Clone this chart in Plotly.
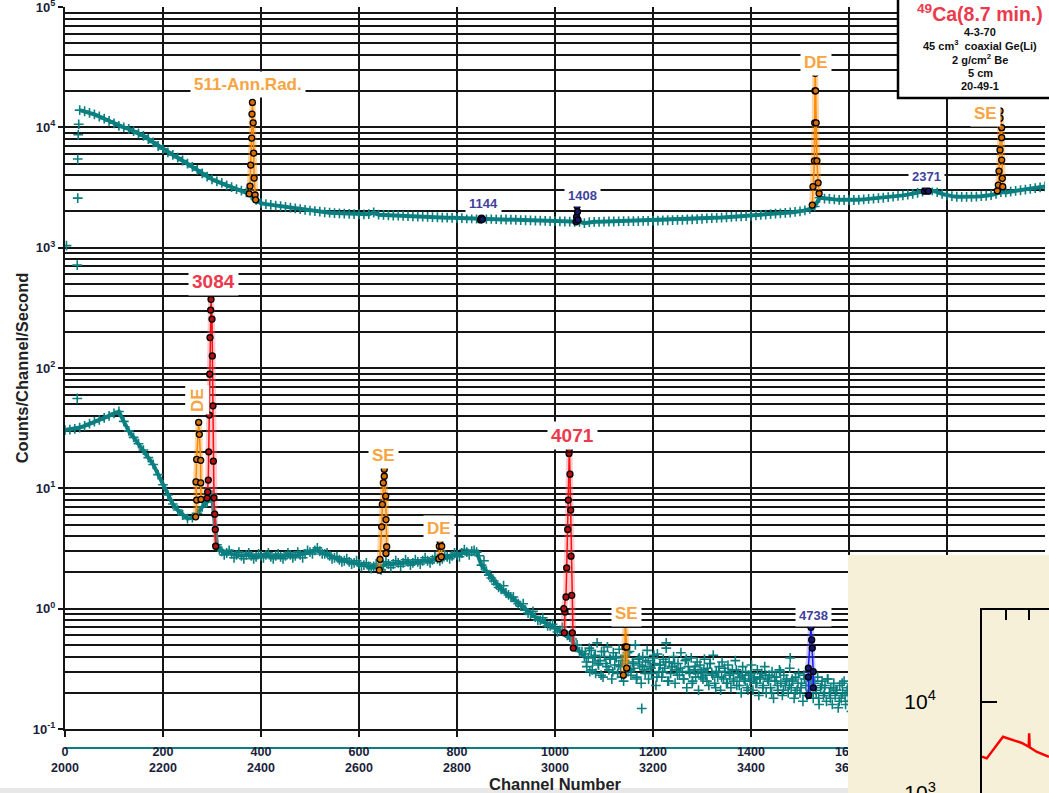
import plotly.graph_objects as go

W, H = 1049, 793

TEAL = "#0b7f80"
ORANGE = "#ff8a00"
ORANGE_TXT = "#f7a441"
RED = "#ff1010"
RED_TXT = "#ec3a4c"
NAVY = "#16166a"
NAVY_TXT = "#3f3f9c"
BLUE = "#1a1aff"
GRID = "#151515"
TICK_TXT = "#1b1e3a"
FONT = "Arial, 'Liberation Sans', sans-serif"

# ---------------- spectrum data (counts / channel / second) ----------------
# upper spectrum, one reading every 10 channels from channel 30 to 2000
up_ch = list(range(30, 2001, 10))
up_val = [
    13900, 13600, 13200, 12800, 12300, 11800, 11300, 10800, 10300, 10000,
    9700, 9300, 8900, 8500, 8000, 7500, 7000, 6600, 6200, 5900,
    5600, 5300, 5000, 4700, 4420, 4150, 3900, 3700, 3550, 3450,
    3300, 3180, 3070, 2980, 2880, 2760, 2500, 2340, 2300, 2270,
    2240, 2210, 2180, 2150, 2120, 2090, 2060, 2030, 2010, 1990,
    1970, 1955, 1940, 1930, 1920, 1910, 1900, 1895, 1890, 1900,
    1960, 1880, 1870, 1860, 1850, 1845, 1840, 1830, 1820, 1815,
    1810, 1800, 1795, 1790, 1780, 1775, 1770, 1765, 1760, 1755,
    1750, 1745, 1740, 1740, 1735, 1730, 1720, 1715, 1710, 1700,
    1695, 1690, 1685, 1680, 1675, 1670, 1665, 1660, 1655, 1650,
    1645, 1640, 1640, 1600, 1630, 1640, 1640, 1645, 1650, 1650,
    1655, 1660, 1660, 1665, 1665, 1670, 1670, 1675, 1680, 1685,
    1690, 1695, 1700, 1705, 1715, 1720, 1730, 1740, 1750, 1760,
    1770, 1780, 1790, 1800, 1810, 1820, 1830, 1840, 1855, 1870,
    1885, 1900, 1915, 1930, 1945, 1960, 1980, 2000, 2040, 2100,
    2200, 2600, 2560, 2540, 2520, 2500, 2490, 2480, 2490, 2500,
    2520, 2540, 2560, 2580, 2600, 2630, 2660, 2690, 2720, 2760,
    2800, 2860, 2930, 3050, 3000, 2900, 2800, 2720, 2680, 2650,
    2640, 2640, 2650, 2660, 2680, 2700, 2740, 2800, 2900, 2880,
    2920, 2960, 3000, 3040, 3080, 3120, 3170, 3230,
]
# isolated readings at the very start of the upper spectrum
up_start_ch = [3, 25, 26, 26, 27, 28]
up_start_val = [1040, 716, 2580, 5450, 8670, 10600]

# lower spectrum, every 10 channels from 0 to 1060
lo_ch = list(range(0, 1061, 10))
lo_val = [
    30.5, 30.8, 31.2, 32, 33, 34.5, 35.8, 37, 38.5, 40,
    42, 43.5, 36, 30, 26.5, 23.5, 20.8, 18, 15.8, 13,
    10.7, 8.8, 7.4, 6.6, 6.0, 5.6, 5.7, 6.2, 7.0, 7.7,
    8.8, 3.4, 3.0, 2.9, 2.85, 2.8, 2.75, 2.8, 2.75, 2.7,
    2.75, 2.8, 2.7, 2.75, 2.7, 2.75, 2.8, 2.75, 2.8, 2.85,
    2.95, 3.05, 3.0, 2.85, 2.75, 2.65, 2.55, 2.5, 2.45, 2.4,
    2.35, 2.3, 2.25, 2.25, 2.2, 2.3, 2.35, 2.35, 2.4, 2.4,
    2.45, 2.4, 2.45, 2.5, 2.5, 2.55, 2.6, 2.6, 2.7, 2.75,
    2.8, 2.9, 2.95, 3.0, 2.95, 2.3, 2.05, 1.8, 1.6, 1.45,
    1.35, 1.25, 1.15, 1.05, 0.97, 0.9, 0.85, 0.8, 0.76, 0.72,
    0.68, 0.66, 0.64, 0.58, 0.5, 0.44, 0.40,
]
# second reading set in between, channels 315 to 1055
lo2_ch = list(range(315, 1056, 10))
lo2_val = [
    3.1, 2.8, 3.05, 2.65, 2.95, 2.6, 2.9, 2.6, 2.85, 2.65,
    2.9, 2.6, 2.85, 2.6, 2.9, 2.65, 2.95, 2.65, 3.05, 2.85,
    3.2, 2.85, 2.9, 2.6, 2.7, 2.45, 2.6, 2.35, 2.5, 2.25,
    2.4, 2.15, 2.35, 2.1, 2.45, 2.2, 2.5, 2.25, 2.55, 2.3,
    2.55, 2.35, 2.65, 2.4, 2.7, 2.5, 2.8, 2.6, 2.9, 2.7,
    3.1, 2.8, 3.05, 2.75, 2.5, 1.9, 1.7, 1.5, 1.55, 1.3,
    1.25, 1.1, 1.1, 0.92, 0.95, 0.8, 0.84, 0.72, 0.74, 0.64,
    0.7, 0.6, 0.56, 0.5, 0.44,
]
# low-count tail, every 3 channels from 1062 to 1641
tail_ch = list(range(1062, 1642, 3))
tail_val = [
    0.42, 0.33, 0.39, 0.30, 0.45, 0.36, 0.40, 0.29, 0.52, 0.34,
    0.37, 0.44, 0.27, 0.40, 0.35, 0.48, 0.31, 0.38, 0.26, 0.43,
    0.34, 0.39, 0.29, 0.46, 0.33, 0.37, 0.25, 0.41, 0.35, 0.30,
    0.44, 0.28, 0.36, 0.32, 0.50, 0.27, 0.38, 0.34, 0.24, 0.40,
    0.31, 0.36, 0.45, 0.26, 0.33, 0.29, 0.39, 0.35, 0.23, 0.42,
    0.30, 0.34, 0.27, 0.38, 0.32, 0.47, 0.25, 0.36, 0.29, 0.33,
    0.40, 0.24, 0.31, 0.35, 0.28, 0.43, 0.30, 0.26, 0.37, 0.22,
    0.33, 0.29, 0.39, 0.25, 0.31, 0.27, 0.36, 0.21, 0.34, 0.30,
    0.26, 0.38, 0.28, 0.32, 0.23, 0.35, 0.29, 0.41, 0.24, 0.30,
    0.27, 0.33, 0.21, 0.36, 0.26, 0.30, 0.24, 0.34, 0.28, 0.22,
    0.31, 0.25, 0.37, 0.23, 0.29, 0.27, 0.20, 0.33, 0.26, 0.30,
    0.22, 0.28, 0.25, 0.34, 0.21, 0.27, 0.24, 0.31, 0.19, 0.26,
    0.29, 0.23, 0.33, 0.20, 0.26, 0.28, 0.22, 0.30, 0.18, 0.25,
    0.27, 0.21, 0.31, 0.24, 0.19, 0.28, 0.23, 0.26, 0.20, 0.32,
    0.22, 0.25, 0.18, 0.27, 0.21, 0.29, 0.20, 0.24, 0.17, 0.26,
    0.23, 0.19, 0.28, 0.21, 0.25, 0.18, 0.24, 0.20, 0.27, 0.16,
    0.22, 0.25, 0.19, 0.23, 0.17, 0.26, 0.20, 0.22, 0.16, 0.24,
    0.19, 0.21, 0.15, 0.23, 0.18, 0.20, 0.25, 0.16, 0.21, 0.17,
    0.19, 0.14, 0.22, 0.18, 0.16, 0.21, 0.15, 0.19, 0.17, 0.20,
    0.15, 0.18, 0.16, 0.19,
]
# second tail set, every 6 channels from 1064 to 1640
tail2_ch = list(range(1064, 1641, 6))
tail2_val = [
    0.36, 0.47, 0.31, 0.41, 0.35, 0.28, 0.44, 0.33, 0.38, 0.30,
    0.40, 0.34, 0.27, 0.37, 0.43, 0.31, 0.35, 0.26, 0.39, 0.33,
    0.29, 0.37, 0.32, 0.41, 0.27, 0.34, 0.30, 0.36, 0.25, 0.33,
    0.35, 0.28, 0.32, 0.26, 0.38, 0.30, 0.24, 0.33, 0.29, 0.27,
    0.31, 0.25, 0.35, 0.28, 0.22, 0.30, 0.27, 0.32, 0.24, 0.29,
    0.26, 0.31, 0.23, 0.28, 0.25, 0.21, 0.29, 0.26, 0.24, 0.27,
    0.22, 0.28, 0.25, 0.20, 0.27, 0.23, 0.30, 0.21, 0.25, 0.23,
    0.26, 0.20, 0.24, 0.22, 0.28, 0.19, 0.23, 0.25, 0.21, 0.18,
    0.23, 0.20, 0.26, 0.18, 0.22, 0.21, 0.17, 0.24, 0.19, 0.22,
    0.17, 0.20, 0.16, 0.21, 0.18, 0.15, 0.19,
]
lo_extra_ch = [25, 1177, 1227, 1480]
lo_extra_val = [55.8, 0.148, 0.52, 0.39]

# ---------------- fitted peak regions ----------------
peaks = [
    # (channels, counts, kind)
    ([376, 377.6, 379, 381, 381.6, 382.5, 384, 385, 386, 388, 389],
     [2800, 3250, 4860, 8150, 12900, 16100, 10900, 6110, 3790, 2740, 2500], "escape"),
    ([1525, 1526.5, 1529.5, 1530, 1530.5, 1531, 1532, 1533, 1534.5, 1537, 1539],
     [2260, 3210, 5270, 10900, 20100, 28100, 20100, 10900, 5270, 3460, 2820], "escape"),
    ([1902.7, 1904.7, 1906.1, 1908.2, 1908.2, 1908.2, 1911.6, 1911.6, 1911.6, 1912.9, 1913.7],
     [2970, 3310, 4330, 6480, 11900, 13700, 9930, 8200, 5350, 3770, 3210], "escape"),
    ([848, 850, 852], [1700, 1770, 1720], "weak"),
    ([1043, 1044, 1045, 1046, 1047], [1640, 1800, 2220, 1990, 1700], "weak"),
    ([1754, 1758, 1762], [2950, 3110, 2950], "weak"),
    ([266.7, 268.7, 267.3, 268.7, 272.8, 274.1, 276.9, 276.9, 277.6],
     [5.8, 7.98, 11.3, 17.4, 35.3, 28.1, 17.1, 11.1, 8.09], "escape"),
    ([290, 291.2, 292.4, 293.3, 294.5, 295.3, 295.9, 297.3, 298.0,
      300.0, 300.6, 302.0, 302.7, 304.0, 305.5, 306.7, 307.6],
     [8.3, 9.35, 11.7, 20.1, 40.6, 88.9, 179, 303, 372,
      255, 126, 48.5, 16.8, 8.34, 6.1, 4.55, 3.3], "gamma"),
    ([641.4, 642.9, 646.3, 647.6, 649.6, 651.6, 651.6, 654.5, 655.1, 656.5, 655.1],
     [2.09, 2.57, 4.79, 7.35, 11.1, 14.4, 12.6, 8.61, 5.5, 3.27, 2.88], "escape"),
    ([763, 763.9, 765.3, 768.8, 768], [2.6, 3.30, 3.66, 3.30, 2.70], "escape"),
    ([1019, 1020.4, 1018, 1022.4, 1023.9, 1025.9, 1027.1, 1028.6, 1029.2,
      1030.6, 1032, 1032.7, 1034.1, 1035.3, 1037.3],
     [0.63, 0.94, 1.0, 1.25, 2.18, 4.55, 7.98, 19.5, 21.1,
      13.1, 6.59, 2.73, 1.29, 0.63, 0.47], "gamma"),
    ([1139.4, 1142.9, 1143.5, 1146.3, 1146.3], [0.28, 0.48, 0.74, 0.48, 0.32], "escape"),
    ([1517.7, 1517, 1517, 1522.4, 1523.9, 1525.1, 1527.1, 1527.1],
     [0.19, 0.27, 0.32, 0.70, 0.55, 0.47, 0.30, 0.22], "blue"),
]

# peak labels: text, channel, log10(counts), kind
peak_labels = [
    ("511-Ann.Rad.", 373, 4.36, "escape"),
    ("1144", 855, 3.371, "weak"),
    ("1408", 1057, 3.43, "weak"),
    ("DE", 1533, 4.537, "escape"),
    ("2371", 1759, 3.595, "weak"),
    ("SE", 1878, 4.116, "escape"),
    ("3084", 303, 2.717, "gamma"),
    ("SE", 650, 1.276, "escape"),
    ("DE", 764, 0.667, "escape"),
    ("4071", 1036, 1.442, "gamma"),
    ("SE", 1146, -0.04, "escape"),
    ("4738", 1527, -0.054, "weak"),
]
rotated_label = ("DE", 269, 1.733)

x_ticks = list(range(0, 2001, 200))
x_ticktext = [f"{c}<br>{c + 2000}" for c in x_ticks]
y_ticks = [0.1, 1, 10, 100, 1000, 10000, 100000]
y_ticktext = ["10<sup>-1</sup>", "10<sup>0</sup>", "10<sup>1</sup>", "10<sup>2</sup>",
              "10<sup>3</sup>", "10<sup>4</sup>", "10<sup>5</sup>"]

# inset spectrum (second detector run)
inset_x = [0.0, 0.2, 0.89, 1.31, 1.69, 1.98, 2.0, 2.02, 2.33, 2.84]
inset_y = [2490, 2390, 4120, 3790, 3520, 3200, 4490, 3150, 2810, 2490]
inset_ticks = [1000, 10000]
inset_ticktext = ["10<sup>3</sup>", "10<sup>4</sup>"]

# ---------------- figure ----------------
fig = go.Figure()

# smooth parts of both spectra are dense enough to read as a band
for cx, cy in [(up_ch, up_val), (lo_ch, lo_val)]:
    fig.add_trace(go.Scatter(x=cx, y=cy, mode="lines", line=dict(color=TEAL, width=4),
                             hoverinfo="skip", showlegend=False))

cross = dict(symbol="cross-thin", size=7, line=dict(width=1.6, color=TEAL), color=TEAL)
for cx, cy in [(up_ch, up_val), (up_start_ch, up_start_val), (lo_ch, lo_val),
               (lo2_ch, lo2_val), (tail_ch, tail_val), (tail2_ch, tail2_val),
               (lo_extra_ch, lo_extra_val)]:
    fig.add_trace(go.Scatter(x=cx, y=cy, mode="markers", marker=cross,
                             hoverinfo="skip", showlegend=False))

styles = {
    "escape": (ORANGE, ORANGE, "#d87000"),
    "gamma": (RED, "#ff6f7a", "#b01010"),
    "weak": (NAVY, NAVY, NAVY),
    "blue": (BLUE, "#6a6aff", NAVY),
}
for pch, pval, kind in peaks:
    lc, bc, mc = styles[kind]
    if kind != "weak":
        fig.add_trace(go.Scatter(x=pch, y=pval, mode="lines", opacity=0.35,
                                 line=dict(color=bc, width=6), hoverinfo="skip",
                                 showlegend=False))
    fig.add_trace(go.Scatter(
        x=pch, y=pval, mode="lines+markers",
        line=dict(color=lc, width=1.5 if kind != "weak" else 1),
        marker=dict(symbol="circle", size=6, color=mc, line=dict(color="black", width=1.3)),
        hoverinfo="skip", showlegend=False))

# background panel of the inset (own subplot so it sits above the main traces)
fig.add_trace(go.Scatter(x=[0.5], y=[0.5], xaxis="x2", yaxis="y2", mode="markers",
                         marker=dict(opacity=0), hoverinfo="skip", showlegend=False))
fig.add_trace(go.Scatter(x=inset_x, y=inset_y, xaxis="x3", yaxis="y3", mode="lines",
                         line=dict(color="#ff0000", width=2.5), hoverinfo="skip",
                         showlegend=False))

label_colors = {"escape": ORANGE_TXT, "gamma": RED_TXT, "weak": NAVY_TXT}
label_sizes = {"escape": 17, "gamma": 19, "weak": 13}
for text, cx, ly, kind in peak_labels:
    fig.add_annotation(x=cx, y=ly, xref="x", yref="y", text=f"<b>{text}</b>",
                       showarrow=False, bgcolor="white", borderpad=3,
                       font=dict(family=FONT, size=label_sizes[kind], color=label_colors[kind]))
fig.add_annotation(x=rotated_label[1], y=rotated_label[2], xref="x", yref="y",
                   text=f"<b>{rotated_label[0]}</b>", textangle=-90, showarrow=False,
                   bgcolor="white", borderpad=2,
                   font=dict(family=FONT, size=17, color=ORANGE_TXT))

# sample information box
fig.add_annotation(x=980 / W, y=1 - 13 / H, xref="paper", yref="paper",
                   xanchor="center", yanchor="middle",
                   text="<b><sup>49</sup>Ca(8.7 min.)</b>", showarrow=False,
                   font=dict(family=FONT, size=19.5, color=RED_TXT))
info_lines = ["4-3-70", "45 cm<sup>3</sup>  coaxial Ge(Li)", "2 g/cm<sup>2</sup> Be", "5 cm", "20-49-1"]
for i, line in enumerate(info_lines):
    fig.add_annotation(x=980 / W, y=1 - (32 + 13.5 * i) / H, xref="paper", yref="paper",
                       xanchor="center", yanchor="middle",
                       text=f"<b>{line}</b>", showarrow=False,
                       font=dict(family=FONT, size=11, color="#111"))

fig.update_layout(
    template="none",
    width=W, height=H,
    margin=dict(l=0, r=0, t=0, b=0),
    paper_bgcolor="white",
    plot_bgcolor="rgba(0,0,0,0)",
    font=dict(family=FONT),
    showlegend=False,
    xaxis=dict(
        domain=[65 / W, 1045 / W], range=[0, 2000], anchor="y",
        tickmode="array", tickvals=x_ticks, ticktext=x_ticktext,
        showgrid=True, gridcolor=GRID, gridwidth=1.6,
        showline=True, linecolor=GRID, linewidth=2, zeroline=False,
        ticks="outside", ticklen=6, tickwidth=2, tickcolor=GRID,
        ticklabelstandoff=4,
        tickfont=dict(family=FONT, size=12.5, color=TICK_TXT, weight="bold"),
        title=dict(text="<b>Channel Number</b>", standoff=0,
                   font=dict(family=FONT, size=16.5, color="#222")),
        automargin=False,
    ),
    yaxis=dict(
        domain=[64 / H, 786 / H], type="log", range=[-1.0001, 5.0001], anchor="x",
        tickmode="array", tickvals=y_ticks, ticktext=y_ticktext,
        ticklabeloverflow="allow",
        showgrid=True, gridcolor=GRID, gridwidth=1.6,
        minor=dict(dtick="D1", showgrid=True, gridcolor=GRID, gridwidth=1.6, ticks=""),
        showline=True, linecolor=GRID, linewidth=2, zeroline=False,
        ticks="outside", ticklen=5, tickwidth=2, tickcolor=GRID,
        tickfont=dict(family=FONT, size=13, color=TICK_TXT, weight="bold"),
        title=dict(text="<b>Counts/Channel/Second</b>", standoff=0,
                   font=dict(family=FONT, size=16.5, color="#222")),
        automargin=False,
    ),
    xaxis2=dict(domain=[848 / W, 1], range=[0, 1], anchor="y2", visible=False),
    yaxis2=dict(domain=[0, 238 / H], range=[0, 1], anchor="x2", visible=False),
    xaxis3=dict(domain=[982 / W, 1], range=[0, 2.84], anchor="y3", side="top",
                showline=True, linecolor="black", linewidth=2, zeroline=False,
                showgrid=False, ticks="inside", ticklen=10, tickwidth=2,
                tickcolor="black", tickmode="array", tickvals=[1, 2],
                showticklabels=False),
    yaxis3=dict(domain=[0, 183 / H], type="log", range=[3, 5], anchor="x3",
                showline=True, linecolor="black", linewidth=2, zeroline=False,
                showgrid=False, ticks="inside", ticklen=15, tickwidth=2,
                tickcolor="black", tickmode="array", tickvals=inset_ticks,
                ticktext=inset_ticktext, ticklabelstandoff=40,
                ticklabeloverflow="allow",
                tickfont=dict(family=FONT, size=21, color="black")),
    shapes=[
        dict(type="rect", xref="x2", yref="y2", x0=0, x1=1, y0=0, y1=1,
             fillcolor="#f7f0d8", line=dict(width=0), layer="below"),
        dict(type="line", xref="paper", yref="paper", x0=65 / W, x1=1,
             y0=45 / H, y1=45 / H, line=dict(color=TEAL, width=2), layer="below"),
        dict(type="rect", xref="paper", yref="paper", x0=0, x1=1, y0=0, y1=5 / H,
             fillcolor="#e8e8e8", line=dict(width=0), layer="below"),
        dict(type="rect", xref="paper", yref="paper", x0=898 / W, x1=1.01,
             y0=(H - 98) / H, y1=1.01, fillcolor="white",
             line=dict(color="black", width=2.5), layer="above"),
    ],
)

fig.write_html("out.html")
